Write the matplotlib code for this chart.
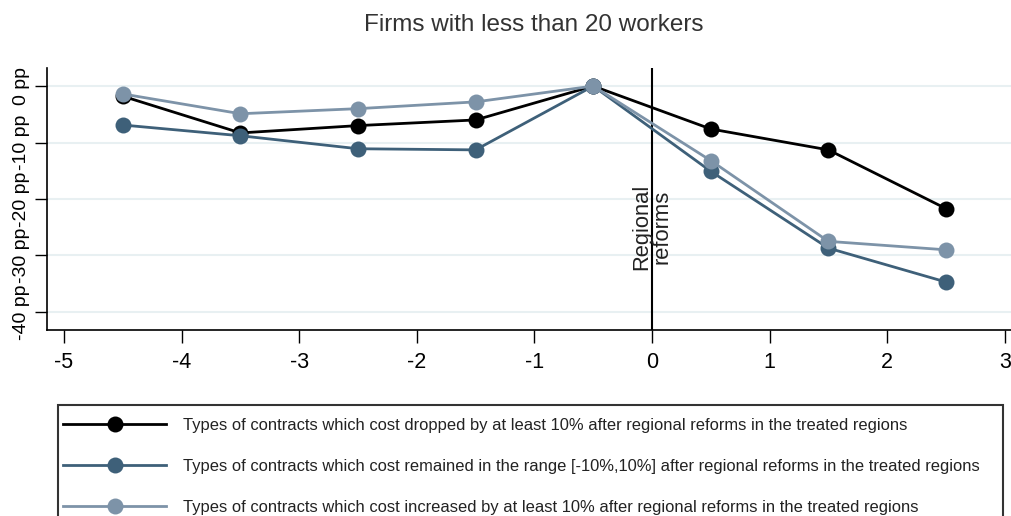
import matplotlib
matplotlib.use("Agg")
import matplotlib.pyplot as plt
from matplotlib.lines import Line2D
from matplotlib.patches import Rectangle

plt.rcParams['font.family'] = ['Liberation Sans', 'DejaVu Sans']

periods = [-4.5, -3.5, -2.5, -1.5, -0.5, 0.5, 1.5, 2.5]
dropped = [-1.8, -8.3, -7.0, -6.0, 0.0, -7.6, -11.3, -21.7]
remained = [-6.9, -8.8, -11.1, -11.3, 0.0, -15.1, -28.7, -34.7]
increased = [-1.4, -4.9, -4.0, -2.8, 0.0, -13.2, -27.5, -29.0]

series_labels = [
    "Types of contracts which cost dropped by at least 10% after regional reforms in the treated regions",
    "Types of contracts which cost remained in the range [-10%,10%] after regional reforms in the treated regions",
    "Types of contracts which cost increased by at least 10% after regional reforms in the treated regions",
]
colors = ["#000000", "#3e6079", "#7d93a8"]
xticks = [-5, -4, -3, -2, -1, 0, 1, 2, 3]
yticks = [0, -10, -20, -30, -40]
ytick_labels = ["0 pp", "-10 pp", "-20 pp", "-30 pp", "-40 pp"]
title = "Firms with less than 20 workers"

W, H = 1011, 516
fig = plt.figure(figsize=(W / 100, H / 100), dpi=100)
ax = fig.add_axes([47 / W, 1 - 330 / H, (1011 - 47) / W, (330 - 68) / H])

for yv in yticks:
    ax.axhline(yv, color="#e8f0f2", lw=1.5, zorder=0)

ax.axvline(0, color="black", lw=1.5, zorder=1)
ax.text(0, -25, "Regional\nreforms", rotation=90, ha="center", va="center",
        fontsize=15.8, linespacing=1.0, color="#222222", zorder=2)

for vals, c, lab in zip([dropped, remained, increased], colors, series_labels):
    ax.plot(periods, vals, color=c, lw=2, marker="o", markersize=11.5,
            markeredgewidth=0, zorder=3, label=lab)

ax.set_xlim(-5.145, 3.053)
ax.set_ylim(-43.2, 3.2)
ax.set_xticks(xticks)
ax.set_xticklabels([str(v) for v in xticks], fontsize=15.5)
ax.set_yticks(yticks)
ax.set_yticklabels(ytick_labels, fontsize=14, rotation=90, va="center")
ax.tick_params(axis="both", direction="out", length=9, width=1, color="black")
ax.tick_params(axis="x", pad=7)
ax.tick_params(axis="y", pad=3)
for s in ["top", "right"]:
    ax.spines[s].set_visible(False)
for s in ["left", "bottom"]:
    ax.spines[s].set_linewidth(1.2)

fig.text(534 / W, 1 - 25 / H, title, ha="center", va="center", fontsize=17.5, color="#333333")

# legend frame (clipped at figure bottom)
fig.patches.append(Rectangle((58 / W, -0.05), (1003 - 58) / W, (1 - 405 / H) + 0.05,
                             transform=fig.transFigure, fill=False, edgecolor="#333333",
                             lw=1.5, zorder=5))
handles = [Line2D([], [], color=c, lw=2, marker="o", markersize=11.5, markeredgewidth=0)
           for c in colors]
leg = fig.legend(handles, series_labels, loc="upper left",
                 bbox_to_anchor=(58 / W, 1 - 413 / H), frameon=False,
                 fontsize=11.9, handlelength=6.25, handletextpad=1.0,
                 labelspacing=1.57, borderaxespad=0, borderpad=0.3)
for t in leg.get_texts():
    t.set_color("#222222")

fig.savefig("out.png", dpi=100)
